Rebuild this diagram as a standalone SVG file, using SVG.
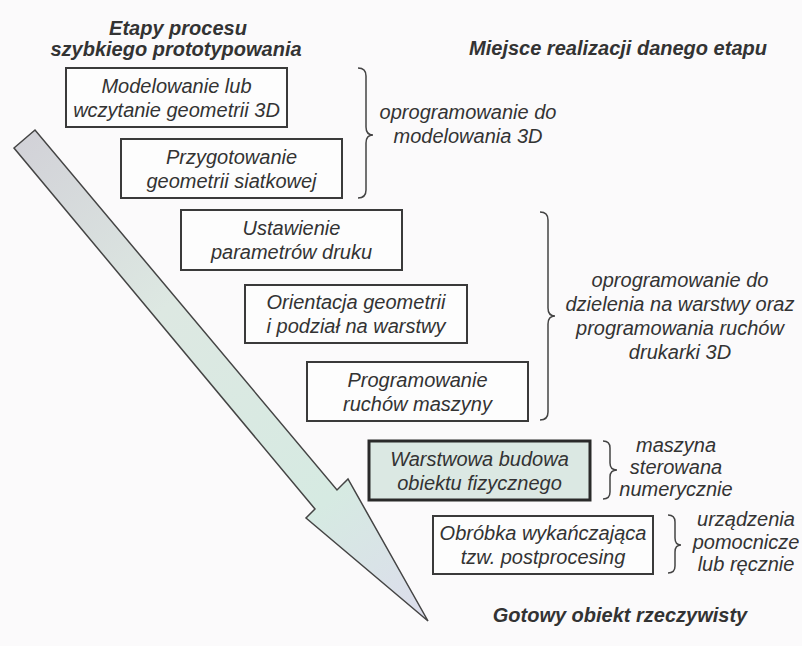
<svg xmlns="http://www.w3.org/2000/svg" width="802" height="646" viewBox="0 0 802 646">
<defs>
<linearGradient id="ag" gradientUnits="userSpaceOnUse" x1="24" y1="138" x2="428" y2="622">
<stop offset="0" stop-color="#d2d2d8"/>
<stop offset="0.35" stop-color="#dde8e2"/>
<stop offset="0.75" stop-color="#d6eae2"/>
<stop offset="1" stop-color="#dcdcec"/>
</linearGradient>
<style>
.box{fill:#fdfdfd;stroke:#3a3a3a;stroke-width:2}
.boxg{fill:#dbe8e3;stroke:#2a2a2a;stroke-width:3}
.t{font-family:"Liberation Sans",Arial,sans-serif;font-style:italic;font-size:20px;fill:#333;text-anchor:middle}
.h{font-family:"Liberation Sans",Arial,sans-serif;font-style:italic;font-weight:bold;font-size:20px;fill:#333;text-anchor:middle}
.br{fill:none;stroke:#444;stroke-width:1.5}
</style>
</defs>
<rect width="802" height="646" fill="#fbfafb"/>
<g id="titles">
<text class="h" x="178" y="35">Etapy procesu</text>
<text class="h" x="176" y="56">szybkiego prototypowania</text>
<text class="h" x="618" y="55">Miejsce realizacji danego etapu</text>
<text class="h" x="620" y="622">Gotowy obiekt rzeczywisty</text>
</g>
<g id="connectors">
<polygon points="14,148 35,130 337,490 348,479 428,621 306,518 315,509" fill="url(#ag)" stroke="#444" stroke-width="1.5" stroke-linejoin="miter"/>
</g>
<g id="n1"><rect class="box" x="66" y="68" width="221" height="59"/>
<text class="t" x="176.5" y="93">Modelowanie lub</text><text class="t" x="176.5" y="117">wczytanie geometrii 3D</text></g>
<g id="n2"><rect class="box" x="121" y="139" width="221" height="59"/>
<text class="t" x="231.5" y="164">Przygotowanie</text><text class="t" x="231.5" y="188">geometrii siatkowej</text></g>
<g id="n3"><rect class="box" x="181" y="210" width="221" height="60"/>
<text class="t" x="291.5" y="235">Ustawienie</text><text class="t" x="291.5" y="259">parametrów druku</text></g>
<g id="n4"><rect class="box" x="245" y="285" width="222" height="58"/>
<text class="t" x="356" y="309">Orientacja geometrii</text><text class="t" x="356" y="333">i podział na warstwy</text></g>
<g id="n5"><rect class="box" x="307" y="362" width="221" height="59"/>
<text class="t" x="417.5" y="387">Programowanie</text><text class="t" x="417.5" y="411">ruchów maszyny</text></g>
<g id="n6"><rect class="boxg" x="369" y="441" width="221" height="59"/>
<text class="t" x="479.5" y="466">Warstwowa budowa</text><text class="t" x="479.5" y="490">obiektu fizycznego</text></g>
<g id="n7"><rect class="box" x="433" y="516" width="220" height="58"/>
<text class="t" x="543" y="540">Obróbka wykańczająca</text><text class="t" x="543" y="564">tzw. postprocesing</text></g>
<g id="brace1"><path class="br" d="M358,68 Q366,68 366,76 L366,127 Q366,135 373,135 Q366,135 366,143 L366,190 Q366,198 358,198"/>
<text class="t" x="468" y="119">oprogramowanie do</text><text class="t" x="468" y="143">modelowania 3D</text></g>
<g id="brace2"><path class="br" d="M540,212 Q548,212 548,220 L548,308 Q548,316 555,316 Q548,316 548,324 L548,412 Q548,420 540,420"/>
<text class="t" x="680" y="287">oprogramowanie do</text><text class="t" x="680" y="311">dzielenia na warstwy oraz</text><text class="t" x="680" y="335">programowania ruchów</text><text class="t" x="680" y="359">drukarki 3D</text></g>
<g id="brace3"><path class="br" d="M603,441 Q610,441 610,448 L610,463 Q610,470 617,470 Q610,470 610,477 L610,492 Q610,499 603,499"/>
<text class="t" x="676" y="452">maszyna</text><text class="t" x="676" y="474">sterowana</text><text class="t" x="676" y="496">numerycznie</text></g>
<g id="brace4"><path class="br" d="M668,515 Q675,515 675,522 L675,538 Q675,545 681,545 Q675,545 675,552 L675,566 Q675,573 668,573"/>
<text class="t" x="746" y="526">urządzenia</text><text class="t" x="746" y="549">pomocnicze</text><text class="t" x="746" y="571">lub ręcznie</text></g>
</svg>
